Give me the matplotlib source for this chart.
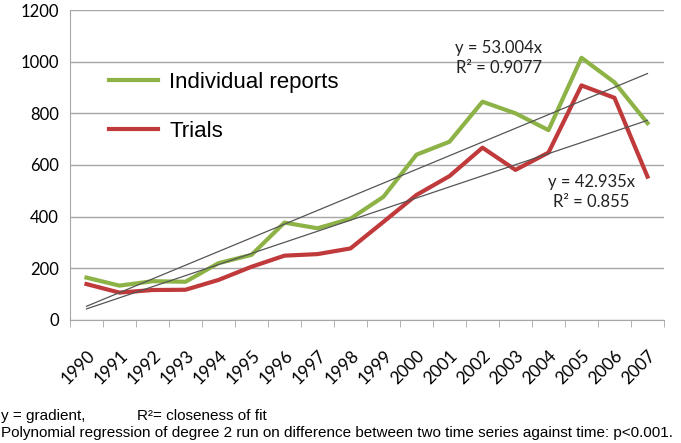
import numpy as np
import matplotlib.pyplot as plt

years = [str(y) for y in range(1990, 2008)]
individual = [164, 133, 150, 148, 220, 252, 377, 355, 392, 477, 640, 690, 845, 800, 735, 1015, 920, 762]
trials = [139, 106, 116, 117, 155, 206, 249, 255, 277, 380, 484, 557, 667, 581, 648, 908, 860, 555]
slope_ind, r2_ind = 53.004, 0.9077
slope_tri, r2_tri = 42.935, 0.855

plt.rcParams["font.family"] = ["Lato", "DejaVu Sans"]

fig = plt.figure(figsize=(6.81, 4.43), dpi=100)
ax = fig.add_axes([0.1028, 0.2777, 0.8722, 0.6997])

x = np.arange(1, len(years) + 1)
grid_c = "#a6a6a6"

ax.plot(x, individual, color="#8db347", lw=3, label="Individual reports", zorder=3)
ax.plot(x, trials, color="#c0393b", lw=3, label="Trials", zorder=3)
ax.plot(x, slope_ind * x, color="#555555", lw=0.9, zorder=4)
ax.plot(x, slope_tri * x, color="#555555", lw=0.9, zorder=4)

ax.set_xlim(0.5, len(years) + 0.5)
ax.set_ylim(0, 1200)
ax.set_yticks(range(0, 1201, 200))
ax.yaxis.grid(True, color=grid_c, lw=1)
ax.set_axisbelow(True)
for s in ("top", "right"):
    ax.spines[s].set_visible(False)
for s in ("left", "bottom"):
    ax.spines[s].set_color(grid_c)
ax.tick_params(axis="y", length=0, labelsize=12, pad=8)
ax.set_xticks(x)
ax.set_xticklabels(years, rotation=45, ha="right", va="top", rotation_mode="anchor", fontsize=12.5)
ax.tick_params(axis="x", which="major", length=0, pad=20)
ax.set_xticks(np.arange(0.5, len(years) + 1), minor=True)
ax.tick_params(axis="x", which="minor", length=5, color=grid_c, direction="out")

ax.text(13.5, 1014, f"y = {slope_ind}x\nR² = {r2_ind}", ha="center", va="center",
        fontsize=12, linespacing=1.25, color="#222222")
ax.text(16.3, 495, f"y = {slope_tri}x\nR² = {r2_tri}", ha="center", va="center",
        fontsize=12, linespacing=1.25, color="#222222")

ax.legend(loc="center left", bbox_to_anchor=(0.032, 0.687), frameon=False,
          prop={"family": "Liberation Sans", "size": 16}, handlelength=2.2,
          labelspacing=1.27, handletextpad=0.5)

fig.text(0.002, 0.052, "y = gradient,", family="Liberation Sans", fontsize=11, va="baseline")
fig.text(0.201, 0.052, "R²= closeness of fit", family="Liberation Sans", fontsize=11, va="baseline")
fig.text(0.002, 0.014, "Polynomial regression of degree 2 run on difference between two time series against time: p<0.001.",
         family="Liberation Sans", fontsize=11, va="baseline")

fig.savefig("out.png", dpi=100)
